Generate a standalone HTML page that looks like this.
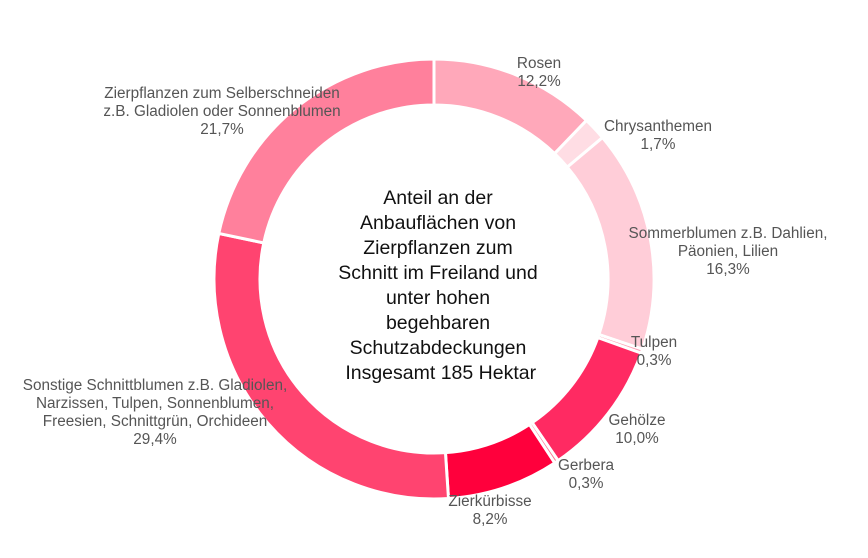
<!DOCTYPE html>
<html><head><meta charset="utf-8"><style>
body{margin:0;background:#fff;width:868px;height:558px;overflow:hidden;font-family:"Liberation Sans",sans-serif}
.l{position:absolute;font-size:15.3px;color:#555;text-align:center;line-height:18px;white-space:nowrap;transform:translateX(-50%)}
</style></head><body>
<svg id="s" width="868" height="558" style="position:absolute;left:0;top:0"></svg>
<div style="position:absolute;left:288px;top:186px;width:300px;text-align:center;font-size:19.5px;line-height:25px;color:#111">Anteil an der<br>Anbauflächen von<br>Zierpflanzen zum<br>Schnitt im Freiland und<br>unter hohen<br>begehbaren<br>Schutzabdeckungen<br>&nbsp;Insgesamt 185 Hektar</div>
<div class="l" style="left:539px;top:55px">Rosen<br>12,2%</div>
<div class="l" style="left:658px;top:118px">Chrysanthemen<br>1,7%</div>
<div class="l" style="left:728px;top:225px">Sommerblumen z.B. Dahlien,<br>Päonien, Lilien<br>16,3%</div>
<div class="l" style="left:654px;top:334px">Tulpen<br>0,3%</div>
<div class="l" style="left:637px;top:412px">Gehölze<br>10,0%</div>
<div class="l" style="left:586px;top:457px">Gerbera<br>0,3%</div>
<div class="l" style="left:490px;top:493px">Zierkürbisse<br>8,2%</div>
<div class="l" style="left:155px;top:377px">Sonstige Schnittblumen z.B. Gladiolen,<br>Narzissen, Tulpen, Sonnenblumen,<br>Freesien, Schnittgrün, Orchideen<br>29,4%</div>
<div class="l" style="left:222px;top:85px">Zierpflanzen zum Selberschneiden<br>z.B. Gladiolen oder Sonnenblumen<br>21,7%</div>
<script>
var d=[[12.2,"#ffa8ba"],[1.7,"#ffdde4"],[16.3,"#ffcdd8"],[0.3,"#ff9fb5"],[10.0,"#ff2a62"],[0.3,"#ff7090"],[8.2,"#ff003c"],[29.4,"#ff4470"],[21.7,"#ff809c"]];
var cx=434,cy=279,R=220,r=174,a=0,t=100.1,h="";
function p(rad,ang){return [cx+rad*Math.sin(ang),cy-rad*Math.cos(ang)];}
d.forEach(function(s){var a0=a/t*2*Math.PI;a+=s[0];var a1=a/t*2*Math.PI;var lg=(a1-a0)>Math.PI?1:0;
var A=p(R,a0),B=p(R,a1),C=p(r,a1),D=p(r,a0);
h+='<path d="M'+A+' A'+R+' '+R+' 0 '+lg+' 1 '+B+' L'+C+' A'+r+' '+r+' 0 '+lg+' 0 '+D+' Z" fill="'+s[1]+'" stroke="#fff" stroke-width="3"/>';});
document.getElementById("s").innerHTML=h;
</script>
</body></html>
